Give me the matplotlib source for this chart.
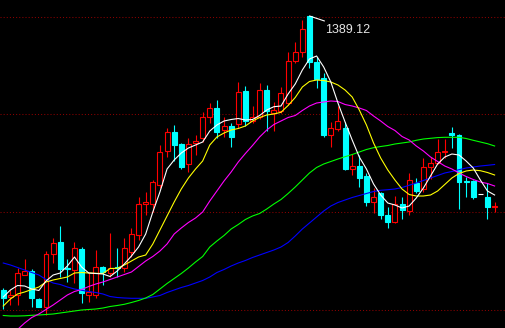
import numpy as np
import matplotlib
matplotlib.use('Agg')
import matplotlib.pyplot as plt

# daily candles (open, high, low, close)
opens = [1115.1, 1108.4, 1110.1, 1129.8, 1134.1, 1106.1, 1098.4, 1151.1, 1162.8, 1137.4,
         1135.1, 1156.1, 1110.4, 1110.1, 1138.4, 1131.8, 1138.4, 1136.8, 1153.4, 1170.1,
         1201.1, 1201.1, 1220.1, 1254.4, 1273.4, 1261.1, 1240.8, 1262.4, 1266.8, 1288.4,
         1296.8, 1275.1, 1279.1, 1280.8, 1314.1, 1284.4, 1288.4, 1315.1, 1292.4, 1294.4,
         1302.4, 1344.4, 1353.4, 1389.12, 1343.4, 1326.8, 1270.1, 1276.4, 1276.8, 1236.1,
         1239.1, 1229.4, 1203.4, 1212.4, 1190.1, 1182.8, 1200.8, 1194.4, 1221.8, 1215.8,
         1237.8, 1241.8, 1252.8, 1271.8, 1270.1, 1224.1, 1224.1, 1211.1, 1207.8, 1198.4]
highs = [1116.8, 1115.1, 1136.8, 1145.8, 1135.8, 1107.4, 1154.4, 1166.8, 1179.1, 1146.1,
         1162.8, 1157.8, 1131.8, 1155.1, 1139.1, 1171.8, 1156.8, 1166.8, 1177.4, 1208.4,
         1212.8, 1225.1, 1260.1, 1276.8, 1280.1, 1261.8, 1266.8, 1270.1, 1293.4, 1301.8,
         1305.1, 1287.8, 1281.8, 1323.4, 1319.1, 1299.1, 1321.8, 1320.1, 1303.4, 1317.8,
         1353.4, 1363.4, 1385.1, 1389.12, 1348.4, 1331.8, 1283.4, 1299.1, 1283.4, 1251.1,
         1250.1, 1232.4, 1217.4, 1213.4, 1198.4, 1209.1, 1208.4, 1232.4, 1226.8, 1246.8,
         1248.4, 1265.8, 1265.8, 1278.4, 1271.1, 1228.4, 1225.1, 1211.1, 1222.4, 1203.4]
lows = [1095.8, 1100.1, 1100.1, 1129.8, 1097.8, 1098.4, 1090.1, 1141.8, 1128.4, 1123.4,
        1121.8, 1102.4, 1103.4, 1107.4, 1120.1, 1128.4, 1128.4, 1133.4, 1148.4, 1165.1,
        1190.1, 1193.4, 1216.8, 1248.4, 1244.4, 1236.1, 1233.4, 1250.1, 1263.4, 1281.8,
        1266.8, 1268.4, 1257.8, 1276.8, 1279.1, 1281.8, 1285.8, 1274.4, 1274.1, 1291.8,
        1300.1, 1341.8, 1348.4, 1337.4, 1316.8, 1268.4, 1258.4, 1274.4, 1235.1, 1230.1,
        1217.8, 1199.4, 1191.8, 1185.8, 1177.4, 1182.4, 1185.8, 1190.1, 1212.4, 1213.4,
        1226.1, 1240.8, 1246.8, 1256.8, 1195.8, 1207.8, 1206.1, 1211.1, 1185.8, 1193.4]
closes = [1107.4, 1110.1, 1131.8, 1133.8, 1106.8, 1098.4, 1150.8, 1161.8, 1135.8, 1135.8,
          1156.8, 1112.4, 1112.8, 1137.8, 1133.4, 1137.4, 1137.4, 1156.8, 1170.8, 1201.1,
          1203.1, 1222.8, 1253.4, 1272.8, 1260.1, 1238.4, 1261.1, 1264.4, 1287.8, 1296.8,
          1273.4, 1279.1, 1268.4, 1312.8, 1284.4, 1288.4, 1315.1, 1294.4, 1295.1, 1311.8,
          1344.4, 1353.4, 1375.8, 1343.4, 1326.1, 1270.1, 1276.8, 1284.4, 1236.1, 1239.4,
          1227.4, 1203.4, 1208.4, 1190.1, 1183.4, 1200.8, 1195.1, 1225.1, 1214.4, 1237.8,
          1241.8, 1252.8, 1254.4, 1270.1, 1223.4, 1223.4, 1208.4, 1211.1, 1198.4, 1199.4]

# moving average lines, one value per candle
ma_white = [1108.1, 1115.1, 1119.6, 1119.1, 1116.1, 1114.6, 1124.1, 1130.1, 1132.1, 1139.1,
            1148.1, 1138.1, 1132.1, 1131.6, 1131.1, 1128.6, 1134.1, 1141.1, 1149.1, 1158.1,
            1171.1, 1193.1, 1213.1, 1236.1, 1245.1, 1252.1, 1257.1, 1260.1, 1263.1, 1274.1,
            1280.1, 1284.1, 1285.6, 1286.6, 1285.1, 1285.6, 1289.6, 1295.1, 1298.4, 1299.1,
            1311.1, 1321.1, 1335.1, 1346.1, 1349.1, 1338.1, 1323.1, 1302.1, 1283.1, 1265.1,
            1248.1, 1236.1, 1221.1, 1210.1, 1202.1, 1200.1, 1197.1, 1199.1, 1207.1, 1217.1,
            1229.1, 1241.1, 1248.1, 1251.1, 1250.1, 1244.1, 1237.1, 1225.1, 1214.1, 1210.1]
ma_yellow = [1099.1, 1106.1, 1111.1, 1113.1, 1115.6, 1118.1, 1123.1, 1125.1, 1126.6, 1128.1,
             1132.1, 1132.6, 1132.1, 1131.8, 1131.6, 1136.6, 1136.8, 1140.1, 1144.1, 1148.1,
             1150.1, 1161.1, 1175.1, 1189.1, 1203.1, 1216.1, 1227.1, 1236.1, 1244.1, 1260.1,
             1268.1, 1272.1, 1275.1, 1276.6, 1279.1, 1284.1, 1287.6, 1290.1, 1291.1, 1292.8,
             1299.6, 1307.6, 1318.1, 1323.6, 1325.1, 1324.6, 1323.1, 1320.1, 1315.1, 1308.1,
             1295.1, 1280.1, 1262.1, 1247.1, 1235.1, 1225.1, 1216.1, 1210.6, 1209.1, 1209.1,
             1210.1, 1214.1, 1220.6, 1227.1, 1231.6, 1234.1, 1235.1, 1234.4, 1232.6, 1230.1]
ma_magenta = [np.nan, np.nan, 1075.6, 1082.1, 1087.6, 1091.1, 1095.6, 1100.1, 1105.1, 1110.1,
              1113.6, 1115.6, 1118.6, 1121.1, 1123.1, 1125.6, 1128.1, 1130.6, 1133.1, 1138.6,
              1144.1, 1148.6, 1154.1, 1161.1, 1171.1, 1177.1, 1182.6, 1187.1, 1193.1, 1204.1,
              1214.1, 1224.1, 1233.1, 1243.1, 1251.6, 1259.6, 1268.1, 1275.1, 1280.6, 1284.1,
              1287.6, 1289.6, 1294.6, 1299.1, 1302.1, 1303.1, 1304.1, 1303.6, 1300.6, 1299.1,
              1297.1, 1294.6, 1289.1, 1284.1, 1278.6, 1274.6, 1268.6, 1265.1, 1259.1, 1254.1,
              1248.1, 1243.6, 1239.1, 1236.1, 1232.1, 1228.6, 1225.6, 1223.1, 1221.6, 1219.1]
ma_green = [1089.6, 1089.1, 1089.1, 1089.3, 1089.8, 1090.1, 1090.6, 1091.1, 1092.1, 1093.1,
            1094.1, 1095.1, 1095.6, 1096.1, 1097.1, 1098.6, 1099.6, 1100.8, 1102.6, 1104.6,
            1107.1, 1110.6, 1116.1, 1121.6, 1126.6, 1131.6, 1137.1, 1143.1, 1148.6, 1158.1,
            1164.1, 1169.6, 1176.1, 1180.6, 1185.6, 1189.1, 1191.6, 1196.1, 1201.1, 1205.6,
            1211.6, 1218.1, 1225.1, 1232.1, 1237.6, 1241.1, 1243.6, 1246.1, 1248.4, 1250.6,
            1253.1, 1255.6, 1257.4, 1258.6, 1259.6, 1261.1, 1262.1, 1263.1, 1264.8, 1266.1,
            1266.8, 1267.5, 1267.8, 1267.8, 1267.8, 1266.6, 1264.8, 1263.1, 1261.4, 1259.1]
ma_blue = [1142.1, 1140.1, 1137.6, 1135.1, 1132.6, 1130.1, 1125.6, 1122.1, 1120.6, 1118.1,
           1116.1, 1114.8, 1113.6, 1112.6, 1111.1, 1108.6, 1107.6, 1107.1, 1106.8, 1106.8,
           1106.8, 1108.1, 1109.6, 1112.6, 1115.1, 1117.6, 1119.6, 1122.1, 1124.6, 1128.1,
           1132.6, 1135.6, 1139.1, 1142.1, 1144.6, 1147.6, 1150.1, 1152.6, 1155.1, 1158.1,
           1162.6, 1169.1, 1176.1, 1182.1, 1188.1, 1194.1, 1199.1, 1202.6, 1205.1, 1207.6,
           1209.6, 1211.6, 1213.6, 1214.8, 1215.4, 1216.1, 1217.6, 1219.8, 1222.1, 1224.6,
           1227.1, 1229.6, 1232.1, 1233.6, 1235.4, 1237.1, 1238.1, 1239.1, 1239.8, 1240.6]

grid_levels = [1387.8, 1290.8, 1192.8, 1094.8]
peak_label = '1389.12'

o = np.array(opens)
h = np.array(highs)
l = np.array(lows)
c = np.array(closes)
x = np.arange(len(o))

fig = plt.figure(figsize=(5.05, 3.28), dpi=100, facecolor='black')
ax = fig.add_axes([0, 0, 1, 1])
ax.set_facecolor('black')

for lev in grid_levels:
    ax.axhline(lev, color='#8b0000', lw=0.75, ls=(0, (1, 2)), zorder=0)

up = c > o
down = c < o
flat = c == o

lw = 0.8

# wicks
ax.vlines(x[up], l[up], h[up], color='#ff0000', lw=lw, zorder=1)
ax.vlines(x[down], l[down], h[down], color='#00ffff', lw=lw, zorder=1)

# bodies
w = 0.7
ax.bar(x[up], (c - o)[up], bottom=o[up], width=w, facecolor='black',
       edgecolor='#ff0000', linewidth=lw, zorder=2)
ax.bar(x[down], (o - c)[down], bottom=c[down], width=w, facecolor='#00ffff',
       edgecolor='#00ffff', linewidth=lw, zorder=2)
ax.hlines(c[flat], x[flat] - w / 2, x[flat] + w / 2, color='white', lw=lw, zorder=2)

# moving averages
ax.plot(x, ma_blue, color='#0000ff', lw=lw, zorder=3)
ax.plot(x, ma_green, color='#00ff00', lw=lw, zorder=3)
ax.plot(x, ma_magenta, color='#ff00ff', lw=lw, zorder=3)
ax.plot(x, ma_yellow, color='#ffff00', lw=lw, zorder=3)
ax.plot(x, ma_white, color='white', lw=lw, zorder=3)

# peak marker
imax = int(np.argmax(h))
ax.annotate('', xy=(imax, h[imax]), xytext=(15, -5), textcoords='offset pixels',
            arrowprops=dict(arrowstyle='-', color='white', lw=0.8,
                            shrinkA=0, shrinkB=0))
ax.annotate(peak_label, xy=(imax, h[imax]), xytext=(16, -8),
            textcoords='offset pixels', ha='left', va='top',
            color='#e6e6e6', fontsize=9, family='Liberation Sans')

ax.set_xlim(-0.46, 70.46)
ax.set_ylim(1077.1, 1405.1)
ax.axis('off')

fig.savefig('out.png', dpi=100, facecolor='black')
